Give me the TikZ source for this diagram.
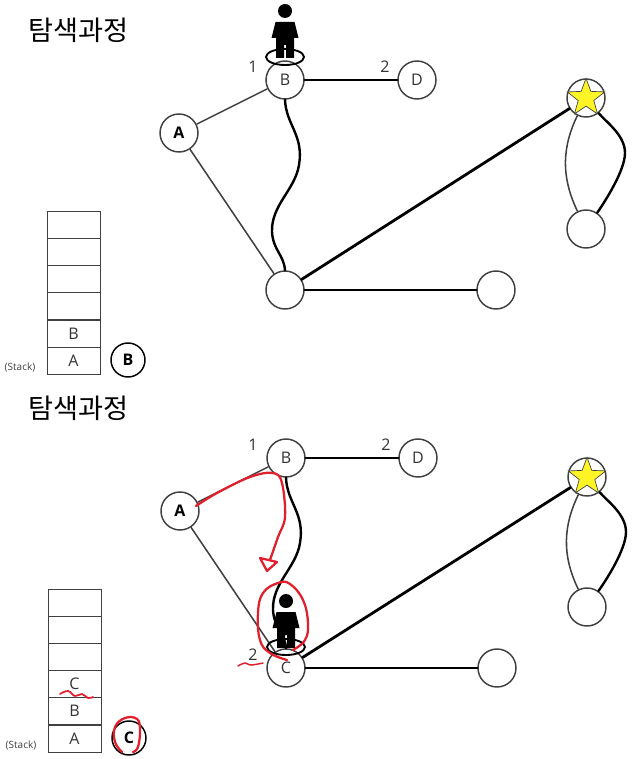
\documentclass[tikz,border=0pt]{standalone}
\usepackage{fontspec}
\setmainfont{Open Sans}
\newfontfamily\krfont{Noto Sans CJK KR}
\usetikzlibrary{shapes.geometric}
\definecolor{inkred}{HTML}{E0202C}
\definecolor{edgegray}{HTML}{404040}
\tikzset{
  vertex/.style={circle,draw=edgegray,line width=1.1pt,fill=white,minimum size=28.5pt,inner sep=0pt,font=\fontsize{12}{14}\selectfont,text=black!80},
  boldvertex/.style={vertex,font=\fontsize{12}{14}\selectfont\bfseries,text=black},
  thinedge/.style={draw=edgegray,line width=1.15pt},
  thickedge/.style={draw=black,line width=1.8pt,line cap=round},
  heavyedge/.style={draw=black,line width=2.1pt,line cap=round},
  stackcell/.style={draw=edgegray,line width=.7pt,minimum width=39.75pt,minimum height=20.25pt,inner sep=0pt,font=\fontsize{12}{14}\selectfont,text=black!80},
  numlabel/.style={inner sep=0pt,font=\fontsize{12}{14}\selectfont,text=black!80},
  title/.style={inner sep=0pt,font=\krfont\fontsize{20.4}{24}\selectfont,anchor=west},
  stacklabel/.style={inner sep=0pt,font=\fontsize{7.5}{9}\selectfont,text=black!75},
  redink/.style={draw=inkred,line width=1.7pt,line cap=round,line join=round},
  goalstar/.style={star,star points=5,star point ratio=2.4,draw=edgegray,line width=.5pt,fill=yellow!85!white,minimum size=29.5pt,inner sep=0pt},
  person/.pic={
    \fill[black] (0,-46) circle (7);
    \fill[black] (-9.5,-35) -- (9.5,-35) -- (13.5,-19) -- (9,-19) -- (9,1) -- (1,1) -- (1,-12) -- (-1,-12) -- (-1,1) -- (-9,1) -- (-9,-19) -- (-13.5,-19) -- cycle;
    \draw[black,line width=1.4pt] (0,0) ellipse (19 and 8);
  }
}
\begin{document}
\begin{tikzpicture}[x=.75pt,y=-.75pt]
\useasboundingbox (0,0) rectangle (639,759);
% ---------- upper panel ----------
\node[title] (t1) at (28,30) {탐색과정};
\node[boldvertex] (A1) at (179,133) {A};
\node[vertex] (B1) at (285,80) {B};
\node[vertex] (D1) at (417,80) {D};
\node[vertex] (S1) at (586,98) {};
\node[vertex] (T1) at (586,229) {};
\node[vertex] (C1) at (285,290) {};
\node[vertex] (E1) at (496,290) {};
\draw[thinedge] (A1) -- (B1);
\draw[thinedge] (A1) -- (C1);
\draw[thickedge] (B1) -- (D1);
\draw[thickedge] (C1) -- (E1);
\draw[heavyedge] (C1) -- (S1);
\draw[thickedge] (B1.south) .. controls (286,125) and (304,135) .. (299,165) .. controls (295,190) and (271,205) .. (272,232) .. controls (273,250) and (284,255) .. (C1.north);
\draw[thinedge] (S1) .. controls (563,145) and (560,175) .. (T1);
\draw[thickedge] (S1) .. controls (606,122) and (625,135) .. (625,153) .. controls (625,170) and (606,200) .. (T1);
\node[goalstar] (G1) at (586,98) {};
\pic at (285,57) {person};
\node[numlabel] (n11) at (253,67) {1};
\node[numlabel] (n12) at (385,67) {2};
\node[stackcell] (s11) at (73.5,224.5) {};
\node[stackcell] (s12) at (73.5,251.5) {};
\node[stackcell] (s13) at (73.5,278.5) {};
\node[stackcell] (s14) at (73.5,306) {};
\node[stackcell] (s15) at (73.5,333.5) {B};
\node[stackcell] (s16) at (73.5,360.5) {A};
\node[stacklabel] (sl1) at (20,367) {(Stack)};
\node[boldvertex,minimum size=25.5pt,draw=black] (p1) at (128,360) {B};
% ---------- lower panel ----------
\node[title] (t2) at (28,408) {탐색과정};
\node[boldvertex] (A2) at (180,511) {A};
\node[vertex] (B2) at (286,458) {B};
\node[vertex] (D2) at (418,458) {D};
\node[vertex] (S2) at (587,477) {};
\node[vertex] (T2) at (587,607) {};
\node[vertex] (C2) at (286,668) {C};
\node[vertex] (E2) at (497,668) {};
\draw[thinedge] (A2) -- (B2);
\draw[thinedge] (A2) -- (C2);
\draw[thickedge] (B2) -- (D2);
\draw[thickedge] (C2) -- (E2);
\draw[heavyedge] (C2) -- (S2);
\draw[thickedge] (B2.south) .. controls (287,503) and (305,513) .. (300,543) .. controls (296,568) and (272,583) .. (273,610) .. controls (274,628) and (285,633) .. (C2.north);
\draw[thinedge] (S2) .. controls (564,524) and (561,554) .. (T2);
\draw[thickedge] (S2) .. controls (607,501) and (626,514) .. (626,532) .. controls (626,549) and (607,579) .. (T2);
\node[goalstar] (G2) at (587,477) {};
\pic at (286,647) {person};
\node[numlabel] (n21) at (253,445) {1};
\node[numlabel] (n22) at (386,445) {2};
\node[numlabel] (n23) at (253,655) {2};
\node[stackcell] (s21) at (74.5,602.5) {};
\node[stackcell] (s22) at (74.5,629.5) {};
\node[stackcell] (s23) at (74.5,656.5) {};
\node[stackcell] (s24) at (74.5,684) {C};
\node[stackcell] (s25) at (74.5,711) {B};
\node[stackcell] (s26) at (74.5,738.5) {A};
\node[stacklabel] (sl2) at (21,745) {(Stack)};
\node[boldvertex,minimum size=25.5pt,draw=black] (p2) at (129,738) {C};
% ---------- red pen ----------
\draw[redink] plot[smooth,tension=.6] coordinates {(196,506) (217,493) (250,477) (273,473) (282,483) (285,517) (278,537) (270,560)};
\draw[redink] (260,558) -- (277,562) -- (267,571) -- cycle;
\draw[redink] plot[smooth,tension=.7] coordinates {(287,660) (270,653) (260,640) (258,613) (263,593) (278,583) (290,584) (303,600) (308,623) (305,640) (293,650)};
\draw[redink,line width=1.1pt] plot[smooth,tension=.7] coordinates {(238,666) (245,663) (250,665) (258,664) (263,663)};
\draw[redink,line width=1.3pt] plot[smooth,tension=.7] coordinates {(60,694) (68,691) (75,696) (82,694) (88,698) (93,697)};
\draw[redink] plot[smooth,tension=.7] coordinates {(122,752) (115,742) (115,727) (125,718) (137,719) (140,730) (138,747) (133,752)};
\end{tikzpicture}
\end{document}
